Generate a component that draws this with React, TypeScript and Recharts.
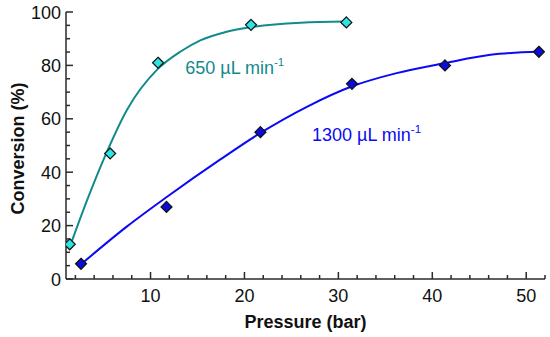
import React from "react";
import {
  ComposedChart,
  Line,
  Scatter,
  XAxis,
  YAxis,
  Label,
  ReferenceDot,
} from "recharts";

// measured points
const p650X = [1.4, 5.7, 10.8, 20.7, 30.85];
const p650Y = [13, 47, 81, 95.2, 96.1];
const p1300X = [2.6, 11.7, 21.7, 31.45, 41.35, 51.35];
const p1300Y = [5.7, 27, 55, 73.1, 80, 85.1];

// fitted curves
const fit650X = [1.4, 3.3, 5.4, 7.5, 10.7, 13.2, 15.3, 18.0, 20.8, 26.0, 30.8];
const fit650Y = [12, 30, 48, 63.4, 78.4, 85.2, 89.4, 92.5, 94.4, 96.0, 96.4];
const fit1300X = [2.6, 7.5, 11.8, 17.4, 21.7, 26.7, 31.4, 36.2, 41.4, 46.2, 51.3];
const fit1300Y = [5.5, 19.7, 30.9, 44.7, 54.7, 64.6, 72.1, 77.1, 80.9, 84.0, 85.1];

const xTicks = [2, 4, 6, 8, 10, 12, 14, 16, 18, 20, 22, 24, 26, 28, 30, 32, 34, 36, 38, 40, 42, 44, 46, 48, 50, 52];
const yTicks = [0, 5, 10, 15, 20, 25, 30, 35, 40, 45, 50, 55, 60, 65, 70, 75, 80, 85, 90, 95, 100];

const toRows = (xs: number[], ys: number[]) => xs.map((x, i) => ({ x, y: ys[i] }));

const FONT = "'Liberation Sans', Arial, sans-serif";
const AXIS = "#2a2a2a";
const TEAL = "#138a8a";
const BLUE = "#0a0af5";

const XTick = (props: any) => {
  const { x, y, payload } = props;
  const major = payload.value % 10 === 0;
  return (
    <g>
      <line x1={x} x2={x} y1={y} y2={y - (major ? 7 : 4)} stroke={AXIS} strokeWidth={1.5} />
      {major && (
        <text x={x} y={y + 22.5} textAnchor="middle" fontSize={18} fontFamily={FONT} fill="#111">
          {payload.value}
        </text>
      )}
    </g>
  );
};

const YTick = (props: any) => {
  const { x, y, payload } = props;
  const major = payload.value % 20 === 0;
  return (
    <g>
      <line x1={x} x2={x + (major ? 7 : 4)} y1={y} y2={y} stroke={AXIS} strokeWidth={1.5} />
      {major && (
        <text x={x - 5} y={y + 6.5} textAnchor="end" fontSize={18} fontFamily={FONT} fill="#111">
          {payload.value}
        </text>
      )}
    </g>
  );
};

const Diamond = (fill: string) => (props: any) => {
  const { cx, cy } = props;
  const r = 5.5;
  return (
    <polygon
      points={`${cx},${cy - r} ${cx + r},${cy} ${cx},${cy + r} ${cx - r},${cy}`}
      fill={fill}
      stroke="#111"
      strokeWidth={1.2}
    />
  );
};

const SeriesLabel = (text: string, color: string) => (props: any) => {
  const { viewBox } = props;
  return (
    <text x={viewBox.cx ?? viewBox.x} y={viewBox.cy ?? viewBox.y} fontSize={18} fontFamily={FONT} fill={color}>
      {text}
      <tspan fontSize={11.5} dy={-8}>-1</tspan>
    </text>
  );
};

const App: React.FC = () => {
  return (
    <div style={{ position: "absolute", left: 0, top: 0, background: "#fff" }}>
      <ComposedChart width={550} height={337} margin={{ top: 12, right: 5, bottom: 8, left: 0 }}>
        <XAxis
          type="number"
          dataKey="x"
          domain={[1, 52]}
          ticks={xTicks}
          interval={0}
          allowDataOverflow
          tickSize={0}
          tickMargin={0}
          tick={<XTick />}
          height={50}
          stroke={AXIS}
          strokeWidth={1.5}
        >
          <Label
            content={(p: any) => (
              <text
                x={p.viewBox.x + p.viewBox.width / 2}
                y={p.viewBox.y + 49}
                textAnchor="middle"
                fontSize={18}
                fontWeight="bold"
                fontFamily={FONT}
                fill="#111"
              >
                Pressure (bar)
              </text>
            )}
          />
        </XAxis>
        <YAxis
          type="number"
          domain={[0, 100]}
          ticks={yTicks}
          interval={0}
          tickSize={0}
          tickMargin={0}
          tick={<YTick />}
          width={66}
          stroke={AXIS}
          strokeWidth={1.5}
        >
          <Label
            content={(p: any) => {
              const cx = p.viewBox.x + 23.5;
              const cy = p.viewBox.y + p.viewBox.height / 2 + 3;
              return (
                <text
                  x={cx}
                  y={cy}
                  transform={`rotate(-90 ${cx} ${cy})`}
                  textAnchor="middle"
                  fontSize={18}
                  fontWeight="bold"
                  fontFamily={FONT}
                  fill="#111"
                >
                  Conversion (%)
                </text>
              );
            }}
          />
        </YAxis>

        <Line
          data={toRows(fit650X, fit650Y)}
          dataKey="y"
          type="monotone"
          stroke={TEAL}
          strokeWidth={2}
          dot={false}
          activeDot={false}
          isAnimationActive={false}
        />
        <Line
          data={toRows(fit1300X, fit1300Y)}
          dataKey="y"
          type="monotone"
          stroke={BLUE}
          strokeWidth={2}
          dot={false}
          activeDot={false}
          isAnimationActive={false}
        />
        <Scatter
          data={toRows(p650X, p650Y)}
          dataKey="y"
          shape={Diamond("#2ee3e3")}
          isAnimationActive={false}
        />
        <Scatter
          data={toRows(p1300X, p1300Y)}
          dataKey="y"
          shape={Diamond("#0c0cd6")}
          isAnimationActive={false}
        />

        <ReferenceDot
          x={13.7}
          y={76.9}
          r={0}
          fill="none"
          stroke="none"
          label={SeriesLabel("650 µL min", TEAL)}
        />
        <ReferenceDot
          x={27.2}
          y={51.5}
          r={0}
          fill="none"
          stroke="none"
          label={SeriesLabel("1300 µL min", BLUE)}
        />
      </ComposedChart>
    </div>
  );
};

export default App;
